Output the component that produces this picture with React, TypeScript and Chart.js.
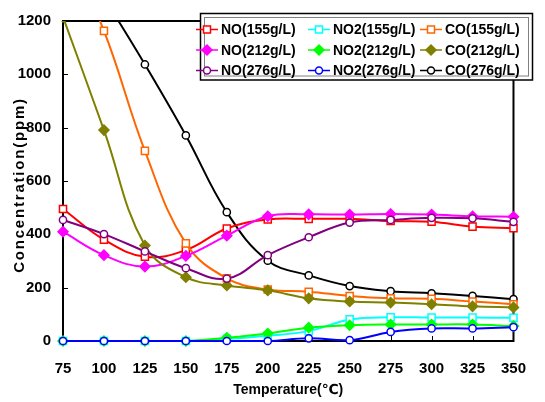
import React, { useEffect, useRef } from 'react';
import { Chart, registerables } from 'chart.js';

Chart.register(...registerables);

// ---- data ----
const temperatures = [75, 100, 125, 150, 175, 200, 225, 250, 275, 300, 325, 350];
const no155 = [495, 380, 316, 341, 422, 456, 458, 458, 450, 447, 429, 423];
const no212 = [410, 322, 279, 319, 395, 468, 475, 474, 476, 474, 468, 466];
const no276 = [454, 401, 336, 273, 234, 322, 389, 444, 454, 462, 460, 447];
const no2_155 = [0, 0, 0, 0, 8, 20, 37, 81, 89, 88, 88, 87];
const no2_212 = [0, 0, 0, 0, 12, 28, 50, 59, 62, 62, 62, 56];
const no2_276 = [0, 0, 0, 0, 0, 0, 10, 3, 34, 47, 47, 52];
const co155 = [1500, 1163, 713, 366, 235, 193, 185, 169, 160, 158, 148, 138];
const co212 = [1215, 791, 358, 239, 208, 190, 160, 148, 144, 138, 130, 126];
const co276 = [1550, 1290, 1037, 771, 483, 301, 246, 206, 187, 179, 169, 157];
const yTickValues = [0, 200, 400, 600, 800, 1000, 1200];
const xTickValues = temperatures;

const yTitle = 'Concentration(ppm)';
const xTitle = 'Temperature(℃)';

type Shape = 'square' | 'diamond' | 'circle';
interface SeriesDef {
  label: string;
  data: number[];
  color: string;
  shape: Shape;
  filled: boolean;
  order: number;
}

// legend order (row-major, 3 columns)
const series: SeriesDef[] = [
  { label: 'NO(155g/L)', data: no155, color: '#FF0000', shape: 'square', filled: false, order: 5 },
  { label: 'NO2(155g/L)', data: no2_155, color: '#00FFFF', shape: 'square', filled: false, order: 8 },
  { label: 'CO(155g/L)', data: co155, color: '#FF6600', shape: 'square', filled: false, order: 4 },
  { label: 'NO(212g/L)', data: no212, color: '#FF00FF', shape: 'diamond', filled: true, order: 3 },
  { label: 'NO2(212g/L)', data: no2_212, color: '#00FF00', shape: 'diamond', filled: true, order: 7 },
  { label: 'CO(212g/L)', data: co212, color: '#808000', shape: 'diamond', filled: true, order: 2 },
  { label: 'NO(276g/L)', data: no276, color: '#800080', shape: 'circle', filled: false, order: 1 },
  { label: 'NO2(276g/L)', data: no2_276, color: '#0000FF', shape: 'circle', filled: false, order: 0 },
  { label: 'CO(276g/L)', data: co276, color: '#000000', shape: 'circle', filled: false, order: 6 },
];

const FONT = '"Liberation Sans", Arial, "DejaVu Sans", sans-serif';

function drawMarker(ctx: CanvasRenderingContext2D, s: SeriesDef, x: number, y: number) {
  ctx.save();
  ctx.lineWidth = 1.5;
  ctx.strokeStyle = s.color;
  ctx.fillStyle = s.filled ? s.color : '#ffffff';
  ctx.beginPath();
  if (s.shape === 'square') {
    ctx.rect(x - 3.5, y - 3.5, 7, 7);
  } else if (s.shape === 'diamond') {
    ctx.moveTo(x, y - 5);
    ctx.lineTo(x + 5, y);
    ctx.lineTo(x, y + 5);
    ctx.lineTo(x - 5, y);
    ctx.closePath();
  } else {
    ctx.arc(x, y, 3.5, 0, Math.PI * 2);
  }
  ctx.fill();
  ctx.stroke();
  ctx.restore();
}

const framePlugin = {
  id: 'frameAndTicks',
  beforeDatasetsDraw(chart: any) {
    const { ctx, chartArea, scales } = chart;
    const { left, right, top, bottom } = chartArea;
    ctx.save();
    ctx.strokeStyle = '#000';
    ctx.lineWidth = 1;
    yTickValues.forEach((v) => {
      const y = Math.round(scales.y.getPixelForValue(v)) + 0.5;
      ctx.beginPath();
      ctx.moveTo(left, y);
      ctx.lineTo(left + 5, y);
      ctx.stroke();
    });
    xTickValues.forEach((v) => {
      const x = Math.round(scales.x.getPixelForValue(v)) + 0.5;
      ctx.beginPath();
      ctx.moveTo(x, bottom);
      ctx.lineTo(x, bottom - 5);
      ctx.stroke();
    });
    ctx.lineWidth = 2;
    ctx.strokeRect(left, top, right - left, bottom - top);
    ctx.restore();
  },
  afterDraw(chart: any) {
    const { ctx, chartArea } = chart;
    ctx.save();
    ctx.translate(19.5, (chartArea.top + chartArea.bottom) / 2 + 4);
    ctx.rotate(-Math.PI / 2);
    ctx.font = `bold 15px ${FONT}`;
    (ctx as any).letterSpacing = '1.8px';
    ctx.fillStyle = '#000';
    ctx.textAlign = 'center';
    ctx.textBaseline = 'middle';
    ctx.fillText(yTitle, 0, 0);
    ctx.restore();

    // legend
    ctx.save();
    const bx = 200.5, by = 13.5, bw = 332, bh = 66.5;
    ctx.fillStyle = '#fff';
    ctx.fillRect(bx, by, bw, bh);
    ctx.strokeStyle = '#000';
    ctx.lineWidth = 1.5;
    ctx.strokeRect(bx, by, bw, bh);
    ctx.strokeStyle = '#808080';
    ctx.lineWidth = 1;
    ctx.strokeRect(bx + 4, by + 4, bw - 8, bh - 8);
    const colCenters = [207, 319, 431];
    const rowCenters = [29.5, 50, 70.5];
    ctx.font = `bold 14px ${FONT}`;
    ctx.textBaseline = 'middle';
    ctx.textAlign = 'left';
    series.forEach((s, i) => {
      const cx = colCenters[i % 3];
      const cy = rowCenters[Math.floor(i / 3)];
      ctx.strokeStyle = s.color;
      ctx.lineWidth = 1.5;
      ctx.beginPath();
      ctx.moveTo(cx - 11, cy);
      ctx.lineTo(cx + 11, cy);
      ctx.stroke();
      drawMarker(ctx, s, cx, cy);
      ctx.fillStyle = '#000';
      ctx.fillText(s.label, cx + 14, cy + 1);
    });
    ctx.restore();
  },
};

export default function App() {
  const ref = useRef<HTMLCanvasElement | null>(null);
  useEffect(() => {
    if (!ref.current) return;
    const datasets = series.map((s) => ({
      label: s.label,
      data: temperatures.map((t, i) => ({ x: t, y: s.data[i] })),
      order: s.order,
      borderColor: s.color,
      backgroundColor: s.filled ? s.color : '#ffffff',
      pointBackgroundColor: s.filled ? s.color : '#ffffff',
      pointBorderColor: s.color,
      pointBorderWidth: 1.5,
      pointStyle: s.shape === 'square' ? 'rect' : s.shape === 'diamond' ? 'rectRot' : 'circle',
      pointRadius: s.shape === 'square' ? 5 : s.shape === 'diamond' ? 5 : 3.6,
      borderWidth: 2,
      tension: 0.4,
      fill: false,
      clip: { left: 8, top: 0, right: 8, bottom: 8 },
    }));
    const chart = new Chart(ref.current, {
      type: 'line',
      data: { datasets },
      options: {
        animation: false,
        responsive: false,
        maintainAspectRatio: false,
        layout: { padding: { top: 14, right: 13, left: 0, bottom: 0 } },
        plugins: { legend: { display: false }, tooltip: { enabled: false }, title: { display: false } },
        scales: {
          x: {
            type: 'linear',
            min: 75,
            max: 350,
            afterBuildTicks: (scale: any) => {
              scale.ticks = xTickValues.map((v) => ({ value: v }));
            },
            afterFit: (scale: any) => {
              scale.height = 61;
            },
            grid: { display: false, drawTicks: false },
            border: { display: false },
            ticks: {
              color: '#000',
              padding: 19,
              maxRotation: 0,
              autoSkip: false,
              callback: (v: any) => String(v),
              font: { family: FONT, size: 15, weight: 'bold' },
            },
            title: {
              display: true,
              text: xTitle,
              color: '#000',
              font: { family: FONT, size: 14, weight: 'bold' },
              padding: { top: 0, bottom: 3 },
            },
          },
          y: {
            type: 'linear',
            min: 0,
            max: 1200,
            afterBuildTicks: (scale: any) => {
              scale.ticks = yTickValues.map((v) => ({ value: v }));
            },
            afterFit: (scale: any) => {
              scale.width = 63;
            },
            grid: { display: false, drawTicks: false },
            border: { display: false },
            ticks: {
              color: '#000',
              padding: 12,
              autoSkip: false,
              callback: (v: any) => String(v),
              font: { family: FONT, size: 15, weight: 'bold' },
            },
          },
        },
      },
      plugins: [framePlugin],
    });
    return () => chart.destroy();
  }, []);
  return (
    <div style={{ position: 'fixed', left: 0, top: 0, width: 545, height: 402, background: '#fff' }}>
      <canvas ref={ref} width={545} height={402} style={{ display: 'block' }} />
    </div>
  );
}
